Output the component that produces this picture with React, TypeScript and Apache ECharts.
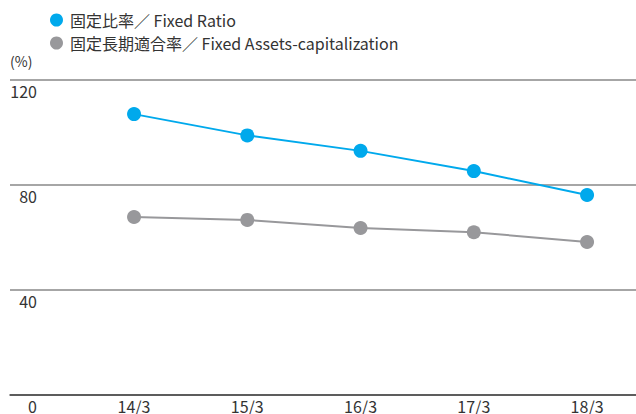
import React, { useEffect, useRef } from "react";
import * as echarts from "echarts";

const categories = ["14/3", "15/3", "16/3", "17/3", "18/3"];
const fixedRatio = [107.0, 98.9, 93.0, 85.3, 76.2];
const fixedAssetsCap = [67.8, 66.7, 63.6, 62.0, 58.3];
const seriesNames = ["固定比率／ Fixed Ratio", "固定長期適合率／ Fixed Assets-capitalization"];
const yTicks = { min: 0, max: 120, interval: 40 };

const FONT = "'Noto Sans CJK JP', 'Noto Sans', sans-serif";
const BLUE = "#00a9ec";
const GRAY = "#98989b";
const TEXT = "#333333";

export default function App() {
  const ref = useRef<HTMLDivElement>(null);
  useEffect(() => {
    if (!ref.current) return;
    const chart = echarts.init(ref.current, undefined, { renderer: "svg" });
    chart.setOption({
      animation: false,
      textStyle: { fontFamily: FONT },
      legend: {
        orient: "vertical",
        left: 45,
        top: 7,
        padding: 5,
        itemGap: 7,
        itemWidth: 13,
        itemHeight: 13,
        icon: "circle",
        textStyle: { fontFamily: FONT, fontSize: 16, color: TEXT, lineHeight: 16, padding: [0, 0, 0, 2] },
        data: seriesNames,
      },
      graphic: [
        {
          type: "text",
          left: 10,
          top: 54,
          style: { text: "(%)", fontFamily: FONT, fontSize: 14, fill: TEXT },
        },
      ],
      grid: [
        { left: 10, right: 0, top: 80, bottom: 19, outerBoundsMode: "none" },
        { left: 77.4, width: 566.3, top: 80, bottom: 19, outerBoundsMode: "none" },
      ],
      xAxis: [
        {
          gridIndex: 0,
          type: "value",
          min: 0,
          max: 1,
          axisLine: { show: true, onZero: false, lineStyle: { color: "#444", width: 1.5 } },
          axisTick: { show: false },
          axisLabel: { show: false },
          splitLine: { show: false },
        },
        {
          gridIndex: 1,
          type: "category",
          data: categories,
          boundaryGap: true,
          axisLine: { show: false },
          axisTick: { show: false },
          axisLabel: { color: TEXT, fontSize: 16, lineHeight: 14, fontFamily: FONT, margin: 4 },
        },
      ],
      yAxis: [
        {
          gridIndex: 0,
          type: "value",
          min: yTicks.min,
          max: yTicks.max,
          interval: yTicks.interval,
          axisLine: { show: false },
          axisTick: { show: false },
          splitLine: { show: true, lineStyle: { color: "#888", width: 1.5 } },
          axisLabel: {
            inside: true,
            margin: 27,
            align: "right",
            verticalAlign: "top",
            lineHeight: 14,
            padding: [4, 0, 0, 0],
            color: TEXT,
            fontSize: 16,
            fontFamily: FONT,
          },
        },
        {
          gridIndex: 1,
          type: "value",
          min: yTicks.min,
          max: yTicks.max,
          interval: yTicks.interval,
          show: false,
        },
      ],
      series: [
        {
          name: seriesNames[0],
          type: "line",
          xAxisIndex: 1,
          yAxisIndex: 1,
          data: fixedRatio,
          color: BLUE,
          symbol: "circle",
          symbolSize: 14,
          lineStyle: { width: 2, color: BLUE },
          itemStyle: { color: BLUE },
          z: 3,
        },
        {
          name: seriesNames[1],
          type: "line",
          xAxisIndex: 1,
          yAxisIndex: 1,
          data: fixedAssetsCap,
          color: GRAY,
          symbol: "circle",
          symbolSize: 14,
          lineStyle: { width: 2, color: GRAY },
          itemStyle: { color: GRAY },
          z: 2,
        },
      ],
    });
    return () => chart.dispose();
  }, []);
  return (
    <div
      ref={ref}
      style={{ position: "fixed", left: 0, top: 0, width: 636, height: 414, background: "#fff" }}
    />
  );
}
